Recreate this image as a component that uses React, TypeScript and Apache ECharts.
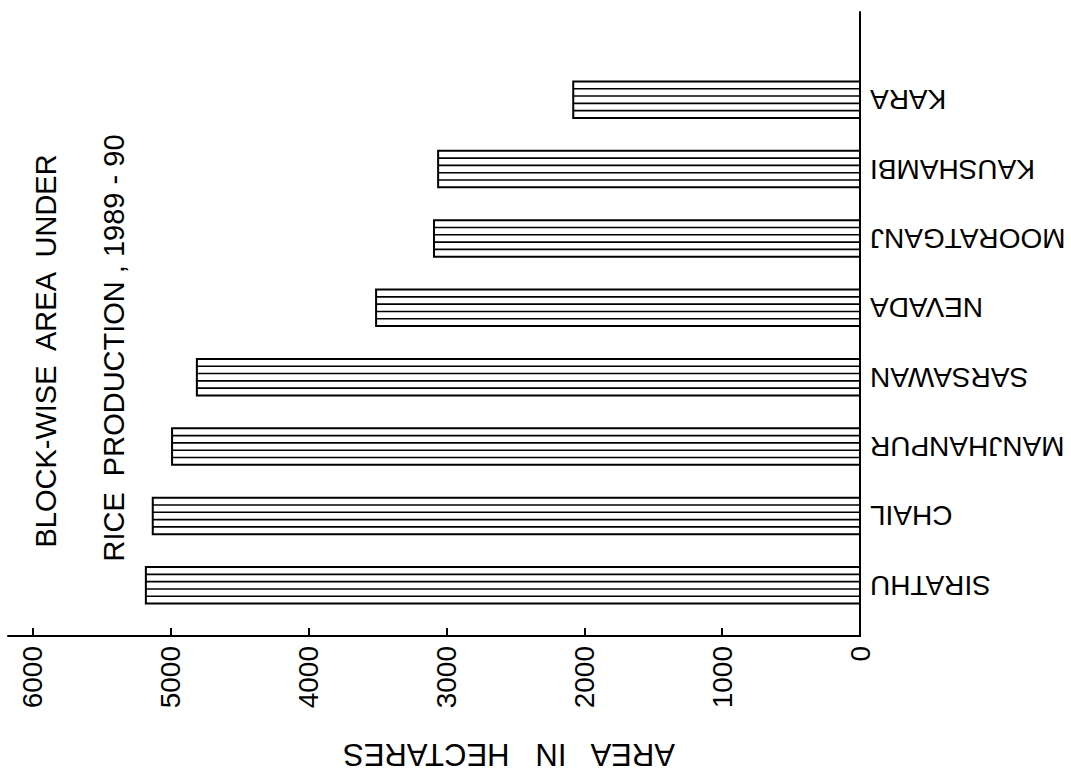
import React, { useEffect, useRef } from "react";
import * as echarts from "echarts";

const categories = ["KARA", "KAUSHAMBI", "MOORATGANJ", "NEVADA", "SARSAWAN", "MANJHANPUR", "CHAIL", "SIRATHU"];
const areaValues = [2080, 3060, 3090, 3510, 4810, 4990, 5130, 5180];
const tickValues = [0, 1000, 2000, 3000, 4000, 5000, 6000];
const titleLine1 = "BLOCK-WISE  AREA  UNDER";
const titleLine2 = "RICE  PRODUCTION , 1989 - 90";
const axisTitle = "AREA   IN   HECTARES";

const FONT = "Liberation Sans";

export default function App() {
  const ref = useRef<HTMLDivElement>(null);
  useEffect(() => {
    if (!ref.current) return;
    const chart = echarts.init(ref.current, null, { renderer: "svg" });
    const option: any = {
      animation: false,
      backgroundColor: "#ffffff",
      grid: [
        { left: 8, right: 211, top: 65, bottom: 154 },
        { left: 8, right: 211, top: 12, bottom: 138 },
      ],
      xAxis: [
        { gridIndex: 0, type: "value", inverse: true, min: 0, max: 6180, show: false },
        {
          gridIndex: 1,
          type: "value",
          inverse: true,
          min: 0,
          max: 6180,
          position: "bottom",
          axisLine: { show: true, onZero: false, lineStyle: { color: "#000", width: 2 } },
          axisTick: { show: true, inside: true, length: 8, customValues: tickValues, lineStyle: { color: "#000", width: 2 } },
          axisLabel: {
            show: true,
            rotate: 90,
            margin: 10,
            customValues: tickValues,
            formatter: (v: number) => String(v),
            color: "#000",
            fontSize: 28,
            fontFamily: FONT,
          },
          splitLine: { show: false },
        },
      ],
      yAxis: [
        {
          gridIndex: 0,
          type: "category",
          data: categories,
          inverse: true,
          position: "right",
          axisLine: { show: false },
          axisTick: { show: false },
          axisLabel: { rotate: 180, margin: 10, color: "#000", fontSize: 28, fontFamily: FONT },
        },
        {
          gridIndex: 1,
          type: "value",
          position: "right",
          min: 0,
          max: 1,
          axisLine: { show: true, onZero: false, lineStyle: { color: "#000", width: 2 } },
          axisTick: { show: false },
          axisLabel: { show: false },
          splitLine: { show: false },
        },
      ],
      series: [
        {
          type: "custom",
          xAxisIndex: 0,
          yAxisIndex: 0,
          encode: { x: 0, y: 1 },
          data: areaValues.map((v, i) => [v, categories[i]]),
          renderItem: (params: any, api: any) => {
            const v = api.value(0);
            const c = api.value(1);
            const p0 = api.coord([0, c]);
            const p1 = api.coord([v, c]);
            const h = api.size([0, 1])[1] * 0.525;
            const x = Math.min(p0[0], p1[0]);
            const w = Math.abs(p0[0] - p1[0]);
            const y = p0[1] - h / 2;
            const children: any[] = [
              {
                type: "rect",
                shape: { x, y, width: w, height: h },
                style: { fill: "#fff", stroke: "#000", lineWidth: 2 },
              },
            ];
            for (let k = 1; k < 5; k++) {
              const ly = y + (h * k) / 5;
              children.push({
                type: "line",
                shape: { x1: x, y1: ly, x2: x + w, y2: ly },
                style: { stroke: "#000", lineWidth: 1.6 },
              });
            }
            return { type: "group", children };
          },
        },
      ],
      graphic: [
        {
          type: "text",
          x: 46,
          y: 351,
          rotation: Math.PI / 2,
          style: {
            text: titleLine1,
            fill: "#000",
            fontSize: 29,
            fontFamily: FONT,
            align: "center",
            verticalAlign: "middle",
          },
        },
        {
          type: "text",
          x: 114,
          y: 348,
          rotation: Math.PI / 2,
          style: {
            text: titleLine2,
            fill: "#000",
            fontSize: 29,
            fontFamily: FONT,
            align: "center",
            verticalAlign: "middle",
          },
        },
        {
          type: "text",
          x: 509,
          y: 754,
          rotation: Math.PI,
          style: {
            text: axisTitle,
            fill: "#000",
            fontSize: 31,
            fontFamily: FONT,
            align: "center",
            verticalAlign: "middle",
          },
        },
      ],
    };
    chart.setOption(option);
    return () => chart.dispose();
  }, []);
  return (
    <div
      ref={ref}
      style={{ position: "absolute", left: 0, top: 0, width: 1071, height: 774, background: "#fff" }}
    />
  );
}
